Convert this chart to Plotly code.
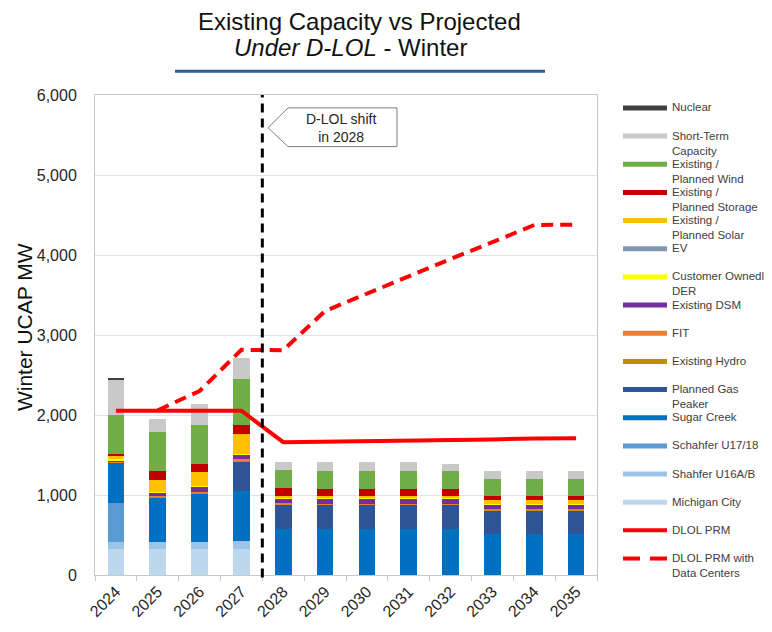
"""Existing capacity vs projected requirement under D-LOL, winter."""

import plotly.graph_objects as go

years = [2024, 2025, 2026, 2027, 2028, 2029, 2030, 2031, 2032, 2033, 2034, 2035]

michigan_city = [326, 326, 326, 326, 0, 0, 0, 0, 0, 0, 0, 0]
shahfer_u16ab = [85, 85, 85, 105, 0, 0, 0, 0, 0, 0, 0, 0]
schahfer_u1718 = [495, 0, 0, 0, 0, 0, 0, 0, 0, 0, 0, 0]
sugar_creek = [495, 558, 611, 620, 575, 575, 575, 575, 575, 508, 508, 508]
gas_peaker = [0, 0, 0, 372, 300, 300, 300, 300, 300, 300, 300, 300]
hydro = [10, 8, 8, 10, 8, 8, 8, 8, 8, 6, 6, 6]
fit = [10, 12, 12, 19, 15, 10, 10, 10, 10, 10, 10, 10]
dsm = [15, 41, 62, 54, 62, 62, 62, 62, 62, 58, 58, 58]
der = [10, 5, 5, 5, 5, 5, 5, 5, 5, 5, 5, 5]
ev = [0, 0, 0, 0, 0, 0, 0, 0, 0, 0, 0, 0]
solar = [40, 157, 178, 256, 18, 28, 28, 28, 28, 45, 45, 45]
storage = [30, 103, 99, 111, 99, 83, 83, 83, 83, 58, 58, 58]
wind = [480, 496, 487, 570, 227, 231, 231, 231, 231, 206, 206, 206]
short_term = [450, 165, 261, 269, 108, 107, 107, 107, 91, 107, 107, 107]
nuclear = [12, 0, 0, 0, 0, 0, 0, 0, 0, 0, 0, 0]

dlol_prm = [2053, 2053, 2053, 2053, 1660, 1665, 1670, 1675, 1685, 1695, 1705, 1710]
dlol_prm_dc = [None, 2060, 2300, 2815, 2810, 3300, 3520, 3730, 3950, 4160, 4375, 4380]

# stacked bottom -> top
bar_series = [
    ("Michigan City", michigan_city, "#BDD7EE"),
    ("Shahfer U16A/B", shahfer_u16ab, "#9DC3E6"),
    ("Schahfer U17/18", schahfer_u1718, "#5B9BD5"),
    ("Sugar Creek", sugar_creek, "#0070C0"),
    ("Planned Gas<br>Peaker", gas_peaker, "#2F5597"),
    ("Existing Hydro", hydro, "#BF9000"),
    ("FIT", fit, "#ED7D31"),
    ("Existing DSM", dsm, "#7030A0"),
    ("Customer Ownedl<br>DER", der, "#FFFF00"),
    ("EV", ev, "#8497B0"),
    ("Existing /<br>Planned Solar", solar, "#FFC000"),
    ("Existing /<br>Planned Storage", storage, "#C00000"),
    ("Existing /<br>Planned Wind", wind, "#70AD47"),
    ("Short-Term<br>Capacity", short_term, "#C9C9C9"),
    ("Nuclear", nuclear, "#404040"),
]

FONT = "Arial, Liberation Sans, sans-serif"
OFF = 8  # page body margin around the plot div
W, H = 772 - OFF, 632 - OFF
L, R, T, B = 95 - OFF, 175, 95 - OFF, 53


def px_x(p):
    """page pixel -> paper x"""
    return (p - OFF - L) / (W - L - R)


def px_y(p):
    """page pixel -> paper y"""
    return (H - B - (p - OFF)) / (H - T - B)


fig = go.Figure()

for name, vals, color in bar_series:
    fig.add_trace(go.Bar(
        x=years, y=vals, name=name, width=0.4,
        marker=dict(color=color, line=dict(width=0)),
    ))

fig.add_trace(go.Scatter(
    x=years, y=dlol_prm, mode="lines", name="DLOL PRM",
    line=dict(color="#FF0000", width=4),
))
fig.add_trace(go.Scatter(
    x=years, y=dlol_prm_dc, mode="lines", name="DLOL PRM with<br>Data Centers",
    line=dict(color="#FF0000", width=4, dash="12px,7px"),
))

shapes = []
annotations = []

# D-LOL shift marker
shapes.append(dict(
    type="line", xref="x", yref="paper", x0=2027.5, x1=2027.5, y0=-0.005, y1=1,
    line=dict(color="black", width=3, dash="9px,6px"),
))
shapes.append(dict(
    type="path", xref="paper", yref="paper",
    path=(f"M {px_x(268)},{px_y(128)} L {px_x(288)},{px_y(108)} L {px_x(397)},{px_y(108)} "
          f"L {px_x(397)},{px_y(147)} L {px_x(288)},{px_y(147)} Z"),
    fillcolor="white", line=dict(color="#7F7F7F", width=1),
))
annotations.append(dict(
    xref="paper", yref="paper", x=px_x(341), y=px_y(128), yanchor="middle", showarrow=False,
    text="D-LOL shift<br>in 2028", font=dict(family=FONT, size=14, color="#262626"),
))

# title and rule
annotations.append(dict(
    xref="paper", yref="paper", x=px_x(359), y=px_y(21), yanchor="middle", showarrow=False,
    text="Existing Capacity vs Projected", font=dict(family=FONT, size=24, color="#111111"),
))
annotations.append(dict(
    xref="paper", yref="paper", x=px_x(350), y=px_y(47), yanchor="middle", showarrow=False,
    text="<i>Under D-LOL</i> - Winter", font=dict(family=FONT, size=24, color="#111111"),
))
shapes.append(dict(
    type="line", xref="paper", yref="paper", x0=px_x(175), x1=px_x(545),
    y0=px_y(71), y1=px_y(71), line=dict(color="#2F5C9E", width=3),
))

# y-axis title, placed by hand
annotations.append(dict(
    xref="paper", yref="paper", x=px_x(24), y=px_y(329), textangle=-90,
    xanchor="center", yanchor="middle", showarrow=False,
    text="Winter UCAP MW", font=dict(family=FONT, size=21, color="#111111"),
))

# legend, drawn by hand so swatches sit on the first text line
legend_items = [(n, c, "bar") for n, _, c in reversed(bar_series)]
legend_items += [("DLOL PRM", "#FF0000", "solid"), ("DLOL PRM with<br>Data Centers", "#FF0000", "dash")]
for i, (name, color, kind) in enumerate(legend_items):
    yy = 108 + 28.4 * i
    if kind == "dash":
        for a, b in [(623, 640), (650, 667)]:
            shapes.append(dict(type="line", xref="paper", yref="paper",
                               x0=px_x(a), x1=px_x(b), y0=px_y(yy), y1=px_y(yy),
                               line=dict(color=color, width=4)))
    else:
        shapes.append(dict(type="line", xref="paper", yref="paper",
                           x0=px_x(623), x1=px_x(667), y0=px_y(yy), y1=px_y(yy),
                           line=dict(color=color, width=5 if kind == "bar" else 4)))
    annotations.append(dict(
        xref="paper", yref="paper", x=px_x(671), y=px_y(yy - 7.5),
        xanchor="left", yanchor="top", align="left", showarrow=False, borderpad=0,
        text=name, font=dict(family=FONT, size=11.5, color="#404040"),
    ))

fig.update_xaxes(
    range=[2023.5, 2035.5], tickvals=years, ticktext=[str(y) for y in years],
    tickangle=-45, tickfont=dict(family=FONT, size=16, color="#262626"),
    showgrid=False, showline=True, linecolor="#C8C8C8", mirror=True,
    minor=dict(tickvals=[y + 0.5 for y in [2023] + years], ticks="outside",
               ticklen=5, tickcolor="#C8C8C8"),
)
fig.update_yaxes(
    range=[0, 6000], dtick=1000, tickformat=",",
    tickfont=dict(family=FONT, size=16, color="#262626"),
    ticklabelstandoff=14,
    gridcolor="#E3E3E3", showline=True, linecolor="#C8C8C8", mirror=True,
)

fig.update_layout(
    width=W, height=H,
    margin=dict(l=L, r=R, t=T, b=B),
    barmode="stack",
    showlegend=False,
    plot_bgcolor="white", paper_bgcolor="white",
    shapes=shapes, annotations=annotations,
)

fig.write_html("out.html")
